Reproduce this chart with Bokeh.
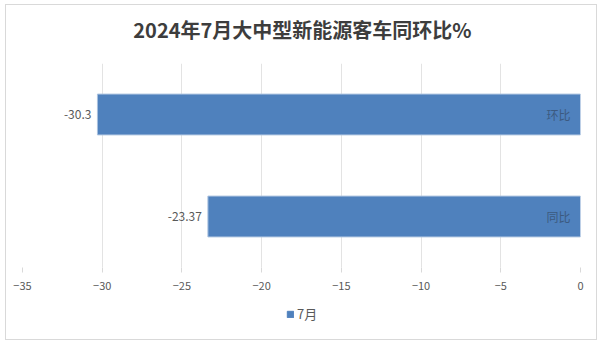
from bokeh.plotting import figure
from bokeh.layouts import column
from bokeh.models import ColumnDataSource, Legend, LegendItem, FixedTicker, Range1d, Label
from bokeh.core.properties import value
from bokeh.embed import file_html
from bokeh.resources import INLINE

title_text = "2024年7月大中型新能源客车同环比%"
categories = ["同比", "环比"]
values = [-23.37, -30.3]
value_labels = ["-23.37", "-30.3"]
series_name = "7月"
x_ticks = [-35, -30, -25, -20, -15, -10, -5, 0]

FONT = "Noto Sans CJK SC"
BAR = "#4f81bd"
W = 590


def bare(fig):
    fig.outline_line_color = None
    fig.background_fill_color = "white"
    fig.border_fill_color = "white"
    fig.xaxis.visible = False
    fig.yaxis.visible = False
    fig.xgrid.grid_line_color = None
    fig.ygrid.grid_line_color = None


# header with title
head = figure(width=W, height=45, x_range=Range1d(0, W), y_range=Range1d(45, 0),
              output_backend="svg", toolbar_location=None, min_border=0)
bare(head)
head.add_layout(Label(x=296, y=24, text=title_text, text_align="center", text_baseline="middle",
                      text_font=FONT, text_font_size="20px", text_font_style="bold",
                      text_color="#3d3d3d"))

# main chart
src = ColumnDataSource(dict(cat=categories, val=values, lab=value_labels, zero=[0] * len(values)))
p = figure(width=W, height=250, y_range=categories, x_range=(-35, 0),
           output_backend="svg", toolbar_location=None,
           min_border_left=16, min_border_right=16, min_border_top=13, min_border_bottom=33)
p.outline_line_color = None
p.background_fill_color = "white"
p.border_fill_color = "white"

r = p.hbar(y="cat", left="val", right="zero", height=0.4, source=src,
           fill_color=BAR, line_color="#a9c1df", line_width=1)

p.text(x="val", y="cat", text="lab", source=src, x_offset=-6, text_align="right",
       text_baseline="middle", text_font=value(FONT), text_font_size="12px", text_color="#595959")
p.text(x="zero", y="cat", text="cat", source=src, x_offset=-10, text_align="right",
       text_baseline="middle", text_font=value(FONT), text_font_size="12px", text_color="#3c5a80")

p.xgrid.grid_line_color = "#e3e3e3"
p.xgrid.ticker = FixedTicker(ticks=x_ticks)
p.ygrid.grid_line_color = None
p.xaxis.ticker = FixedTicker(ticks=x_ticks)
p.xaxis.axis_line_color = None
p.xaxis.major_tick_in = 0
p.xaxis.major_tick_out = 5
p.xaxis.major_tick_line_color = "#d9d9d9"
p.xaxis.minor_tick_line_color = None
p.xaxis.major_label_text_font = FONT
p.xaxis.major_label_text_font_size = "11px"
p.xaxis.major_label_text_color = "#595959"
p.xaxis.major_label_standoff = 9
p.yaxis.visible = False

# legend strip (legend swatch renderer kept outside the visible range)
leg = figure(width=W, height=39, x_range=Range1d(0, W), y_range=Range1d(0, 39),
             output_backend="svg", toolbar_location=None, min_border=0)
bare(leg)
lr = leg.hbar(y=[-100], left=[-100], right=[-99], height=1, fill_color=BAR, line_color=BAR)
legend = Legend(items=[LegendItem(label=series_name, renderers=[lr])], orientation="horizontal",
                location=(264, 16), border_line_color=None, background_fill_alpha=0,
                label_text_font=FONT, label_text_font_size="13px", label_text_color="#595959",
                glyph_width=8, glyph_height=8, label_height=13, label_standoff=3,
                padding=0, margin=0, spacing=0)
leg.add_layout(legend)

layout = column(head, p, leg, spacing=0, margin=(4, 0, 0, 5),
                styles={"border": "1px solid #d9d9d9"})

open("out.html", "w").write(file_html(layout, INLINE))
